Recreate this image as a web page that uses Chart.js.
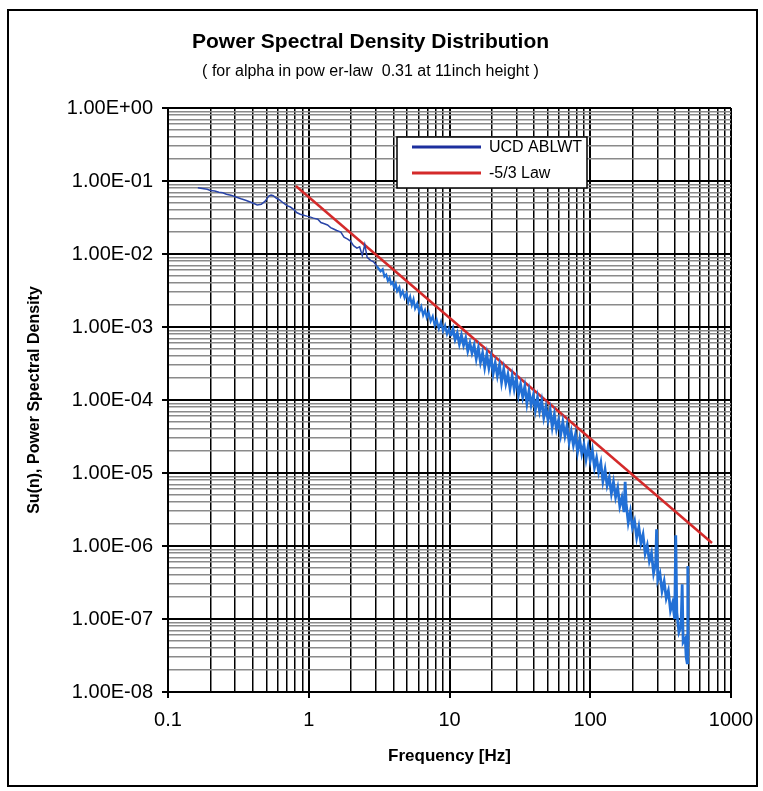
<!DOCTYPE html>
<html>
<head>
<meta charset="utf-8">
<script src="https://cdn.jsdelivr.net/npm/chart.js@4.4.1/dist/chart.umd.min.js"></script>
<style>
  html, body { margin: 0; padding: 0; background: #fff; }
  #chartContainer { width: 763px; height: 791px; }
</style>
</head>
<body>
<div id="chartContainer"><canvas id="psdChart" width="763" height="791"></canvas></div>
<script>
// axis decades and their labels
const xTicks = [0.1, 1, 10, 100, 1000];
const xTickLabels = ['0.1', '1', '10', '100', '1000'];
const yTicks = [1e-8, 1e-7, 1e-6, 1e-5, 1e-4, 1e-3, 1e-2, 1e-1, 1];
const yTickLabels = ['1.00E-08', '1.00E-07', '1.00E-06', '1.00E-05', '1.00E-04',
                     '1.00E-03', '1.00E-02', '1.00E-01', '1.00E+00'];

const blueFreq = [
  0.163, 0.175, 0.19, 0.20, 0.215, 0.23, 0.245, 0.26, 0.28, 0.30,
  0.33, 0.36, 0.40, 0.43, 0.46, 0.49, 0.52, 0.54, 0.56, 0.59,
  0.62, 0.66, 0.70, 0.74, 0.78, 0.82, 0.87, 0.92, 0.97, 1.03,
  1.08, 1.16, 1.22, 1.29, 1.36, 1.43, 1.50, 1.58, 1.69, 1.78,
  1.89, 1.98, 2.08, 2.2, 2.3, 2.4, 2.5, 2.6, 2.75, 2.89,
  3.05, 3.24, 3.35, 3.45, 3.55, 3.65, 3.75, 3.85, 3.95, 4.05,
  4.15, 4.25, 4.4, 4.5, 4.65, 4.8, 4.95, 5.1, 5.25, 5.4,
  5.55, 5.7, 5.9, 6.1, 6.3, 6.5, 6.7, 6.9, 7.1, 7.35,
  7.6, 7.85, 8.1, 8.4, 8.7, 9.0, 9.3, 9.6, 9.9, 10.2,
  10.59, 10.96, 11.35, 11.75, 12.16, 12.59, 13.03, 13.49, 13.96, 14.45,
  14.96, 15.49, 16.03, 16.60, 17.18, 17.78, 18.41, 19.05, 19.72, 20.42,
  21.13, 21.88, 22.65, 23.44, 24.27, 25.12, 26.00, 26.92, 27.86, 28.84,
  29.85, 30.90, 31.99, 33.11, 34.28, 35.48, 36.73, 38.02, 39.36,
  40.74, 42.17, 43.65, 45.19, 46.77, 48.42, 50.12, 51.88, 53.70, 55.59,
  57.54, 59.57, 61.66, 63.83, 66.07, 68.39, 70.79, 73.28, 75.86, 78.52,
  81.28, 84.14, 87.10, 90.16, 93.33, 96.61, 100.0, 103.5,
  107.2, 110.9, 114.8, 118.9, 123.0, 127.4, 131.8, 136.5, 141.3, 146.2,
  151.4, 156.7, 162.2, 167.9, 173.8, 177,
  179.9, 186.2, 192.8, 199.5, 206.5, 213.8, 221.3, 229.1, 237.1, 245.5,
  254.1, 263.0, 272.3, 281.8, 291.7, 296,
  302.0, 312.6, 323.6, 335.0, 346.7, 358.9, 371.5, 384.6, 398.1, 405,
  412.1, 426.6, 441.6, 450, 457.1, 473.2, 480, 488, 493, 495
];
const bluePsd = [
  0.081, 0.079, 0.077, 0.074, 0.073, 0.070, 0.069, 0.066, 0.064, 0.061,
  0.057, 0.054, 0.050, 0.047, 0.048, 0.053, 0.062, 0.064, 0.063, 0.058,
  0.055, 0.050, 0.046, 0.044, 0.041, 0.037, 0.035, 0.034, 0.033, 0.032,
  0.031, 0.030, 0.027, 0.026, 0.025, 0.023, 0.022, 0.021, 0.020, 0.017,
  0.016, 0.015, 0.013, 0.012, 0.0125, 0.0095, 0.0135, 0.0090, 0.0082, 0.0078,
  0.0068, 0.0058, 0.0062, 0.0049, 0.0052, 0.0043, 0.0047, 0.0039, 0.0041, 0.0034,
  0.0039, 0.0031, 0.0035, 0.0027, 0.0031, 0.0025, 0.0029, 0.0022, 0.0026, 0.0020,
  0.0024, 0.0018, 0.0021, 0.0016, 0.0019, 0.00145, 0.0017, 0.00135, 0.0016, 0.00120,
  0.00140, 0.00105, 0.00125, 0.00095, 0.00118, 0.00088, 0.00105, 0.00080, 0.00095, 0.00075,
  9.40e-4, 6.75e-4, 8.20e-4, 5.89e-4, 7.69e-4, 5.64e-4, 7.03e-4, 4.71e-4, 6.00e-4, 4.41e-4,
  5.62e-4, 3.68e-4, 5.14e-4, 3.29e-4, 4.40e-4, 2.81e-4, 4.21e-4, 2.75e-4, 3.85e-4, 2.30e-4,
  3.21e-4, 2.15e-4, 3.01e-4, 1.75e-4, 2.63e-4, 1.68e-4, 2.24e-4, 1.44e-4, 2.15e-4, 1.41e-4,
  1.97e-4, 1.17e-4, 1.64e-4, 1.10e-4, 1.54e-4, 8.95e-5, 1.34e-4, 8.59e-5, 1.15e-4,
  7.31e-5, 1.08e-4, 7.03e-5, 9.75e-5, 5.77e-5, 8.00e-5, 5.30e-5, 7.34e-5, 4.25e-5, 6.31e-5,
  4.00e-5, 5.28e-5, 3.35e-5, 4.98e-5, 3.23e-5, 4.48e-5, 2.64e-5, 3.66e-5, 2.43e-5, 3.37e-5,
  1.95e-5, 2.89e-5, 1.83e-5, 2.43e-5, 1.54e-5, 2.29e-5, 1.48e-5, 2.05e-5,
  1.19e-5, 1.60e-5, 1.03e-5, 1.38e-5, 7.73e-6, 1.11e-5, 6.76e-6, 8.61e-6, 5.25e-6, 7.50e-6,
  4.68e-6, 6.24e-6, 3.52e-6, 4.62e-6, 2.91e-6, 7.6e-6,
  3.83e-6, 2.10e-6, 2.96e-6, 1.78e-6, 2.20e-6, 1.31e-6, 1.82e-6, 1.10e-6, 1.43e-6, 7.91e-7,
  1.02e-6, 6.25e-7, 8.00e-7, 4.27e-7, 5.85e-7, 1.7e-6,
  3.42e-7, 4.18e-7, 2.42e-7, 3.27e-7, 1.93e-7, 2.44e-7, 1.31e-7, 1.66e-7, 1.00e-7, 1.4e-6,
  1.23e-7, 6.62e-8, 7.96e-8, 3.0e-7, 4.81e-8, 5.40e-8, 3.0e-8, 2.5e-8, 5.3e-7, 4.5e-8
];

// -5/3 law reference line, end points
const lawFreq = [0.81, 733];
const lawPsd = [0.0855, 1.1e-6];

const FONT = 'Arial, "Liberation Sans", sans-serif';

function logTicks(majors) {
  const ticks = [];
  for (let i = 0; i < majors.length - 1; i++) {
    for (let k = 1; k <= 9; k++) ticks.push({ value: majors[i] * k });
  }
  ticks.push({ value: majors[majors.length - 1] });
  return ticks;
}

function isDecade(v) {
  const l = Math.log10(v);
  return Math.abs(l - Math.round(l)) < 1e-9;
}

function labelFor(v, majors, labels) {
  for (let j = 0; j < majors.length; j++) {
    if (Math.abs(Math.log10(v / majors[j])) < 1e-6) return labels[j];
  }
  return '';
}

const frame = {
  id: 'frame',
  beforeDraw(chart) {
    const c = chart.ctx;
    c.save();
    c.fillStyle = '#fff';
    c.fillRect(0, 0, chart.width, chart.height);
    c.restore();
  },
  afterDraw(chart) {
    const c = chart.ctx;
    c.save();
    // outer chart border
    c.strokeStyle = '#000';
    c.lineWidth = 2;
    c.strokeRect(8, 10, 749, 776);

    // legend box sitting inside the plot
    const bx = 397, by = 137, bw = 190, bh = 51;
    c.fillStyle = '#fff';
    c.fillRect(bx, by, bw, bh);
    c.lineWidth = 1.5;
    c.strokeRect(bx, by, bw, bh);
    c.font = '16px ' + FONT;
    c.textBaseline = 'middle';
    c.textAlign = 'left';
    chart.data.datasets.forEach((ds, i) => {
      const y = by + 10 + i * 26;
      c.strokeStyle = ds.legendColor || ds.borderColor;
      c.lineWidth = 3;
      c.beginPath();
      c.moveTo(bx + 15, y);
      c.lineTo(bx + 84, y);
      c.stroke();
      c.fillStyle = '#000';
      c.fillText(ds.label, bx + 92, y + 1);
    });
    c.restore();
  }
};

const ctx = document.getElementById('psdChart').getContext('2d');

const chartData = {
  datasets: [{
    label: 'UCD ABLWT',
    data: blueFreq.map((f, i) => ({ x: f, y: bluePsd[i] })),
    borderColor: '#2270d6',
    legendColor: '#1c2f9e',
    borderWidth: 1.5,
    pointRadius: 0,
    tension: 0,
    // thin dark trace at low frequency, thick noisy band above
    segment: {
      borderColor: c => c.p0.parsed.x < 3 ? '#2a45a8' : '#2270d6',
      borderWidth: c => c.p0.parsed.x < 3 ? 1.5 : (c.p0.parsed.x < 10 ? 2.2 : 2.8)
    }
  }, {
    label: '-5/3 Law',
    data: lawFreq.map((f, i) => ({ x: f, y: lawPsd[i] })),
    borderColor: '#d42a2a',
    borderWidth: 2.5,
    pointRadius: 0,
    tension: 0
  }]
};

const config = {
  type: 'line',
  data: chartData,
  options: {
    responsive: false,
    animation: false,
    layout: { padding: { left: 10, right: 32, top: 10, bottom: 10 } },
    plugins: {
      legend: { display: false },
      tooltip: { enabled: false },
      title: {
        display: true,
        text: 'Power Spectral Density Distribution',
        color: '#000',
        font: { family: FONT, size: 21, weight: 'bold' },
        padding: { top: 20, bottom: 0 }
      },
      subtitle: {
        display: true,
        text: '( for alpha in pow er-law  0.31 at 11inch height )',
        color: '#000',
        font: { family: FONT, size: 16 },
        padding: { top: 7, bottom: 26.6 }
      }
    },
    scales: {
      x: {
        type: 'logarithmic',
        position: 'bottom',
        min: 0.1,
        max: 1000,
        afterBuildTicks: s => { s.ticks = logTicks(xTicks); },
        afterFit: s => { s.height = 89; s.paddingLeft = 0; s.paddingRight = 0; },
        ticks: {
          autoSkip: false,
          maxRotation: 0,
          padding: 10,
          color: '#000',
          font: { family: FONT, size: 20 },
          callback: v => labelFor(v, xTicks, xTickLabels)
        },
        grid: {
          color: '#000',
          lineWidth: c => (c.tick && isDecade(c.tick.value)) ? 2 : 1.5,
          tickLength: 6,
          tickColor: c => (c.tick && isDecade(c.tick.value)) ? '#000' : 'rgba(0,0,0,0)'
        },
        border: { color: '#000', width: 2 },
        title: {
          display: true,
          text: 'Frequency [Hz]',
          color: '#000',
          font: { family: FONT, size: 17, weight: 'bold' },
          padding: { top: 0, bottom: 14 }
        }
      },
      y: {
        type: 'logarithmic',
        position: 'left',
        min: 1e-8,
        max: 1,
        afterBuildTicks: s => { s.ticks = logTicks(yTicks); },
        afterFit: s => { s.width = 158; s.paddingTop = 0; s.paddingBottom = 0; },
        ticks: {
          autoSkip: false,
          padding: 9,
          color: '#000',
          font: { family: FONT, size: 20 },
          callback: v => labelFor(v, yTicks, yTickLabels)
        },
        grid: {
          color: c => (c.tick && isDecade(c.tick.value)) ? '#000' : '#8a8a8a',
          lineWidth: c => (c.tick && isDecade(c.tick.value)) ? 2 : 1.5,
          tickLength: 6,
          tickColor: c => (c.tick && isDecade(c.tick.value)) ? '#000' : 'rgba(0,0,0,0)'
        },
        border: { color: '#000', width: 2 },
        title: {
          display: true,
          text: 'Su(n), Power Spectral Density',
          color: '#000',
          font: { family: FONT, size: 16, weight: 'bold' },
          padding: { top: 15, bottom: 0 }
        }
      }
    }
  },
  plugins: [frame]
};

const psdChart = new Chart(ctx, config);
</script>
</body>
</html>
